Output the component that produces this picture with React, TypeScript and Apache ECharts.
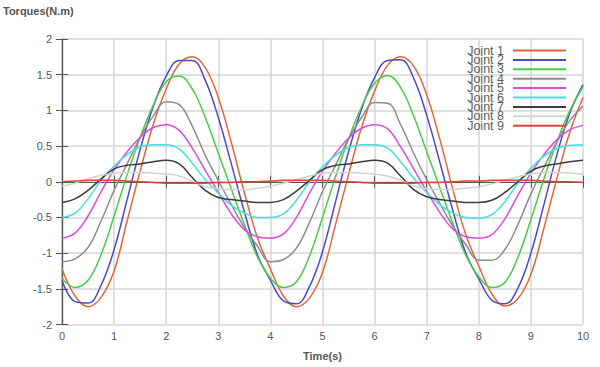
import React, { useEffect, useRef } from "react";
import * as echarts from "echarts";

const TIMES = [
  0, 0.25, 0.5, 0.75, 1, 1.25, 1.5, 1.75, 2, 2.25, 2.5, 2.75, 3, 3.25, 3.5, 3.75,
  4, 4.25, 4.5, 4.75, 5, 5.25, 5.5, 5.75, 6, 6.25, 6.5, 6.75, 7, 7.25, 7.5, 7.75,
  8, 8.25, 8.5, 8.75, 9, 9.25, 9.5, 9.75, 10,
];

const JOINT_NAMES = ["Joint 1", "Joint 2", "Joint 3", "Joint 4", "Joint 5", "Joint 6", "Joint 7", "Joint 8", "Joint 9"];
const JOINT_COLORS = ["#e0663a", "#4a4ac6", "#46cc46", "#8c8c8c", "#dc4cdc", "#44e0e0", "#3c3c3c", "#d2d2d2", "#dc4434"];

const JOINT1 = [
  -1.22, -1.60, -1.75, -1.62, -1.25, -0.55, 0.15, 0.80, 1.30, 1.65, 1.75, 1.60, 1.18, 0.55, -0.15, -0.78,
  -1.22, -1.60, -1.75, -1.63, -1.27, -0.60, 0.10, 0.76, 1.27, 1.63, 1.75, 1.62, 1.22, 0.60, -0.10, -0.74,
  -1.18, -1.57, -1.74, -1.64, -1.30, -0.65, 0.05, 0.70, 1.18,
];
const JOINT2 = [
  -1.38, -1.68, -1.70, -1.45, -0.95, -0.25, 0.45, 1.05, 1.48, 1.70, 1.70, 1.42, 0.90, 0.25, -0.42, -1.02,
  -1.38, -1.67, -1.71, -1.47, -0.98, -0.28, 0.42, 1.02, 1.46, 1.70, 1.71, 1.45, 0.93, 0.28, -0.40, -1.00,
  -1.36, -1.66, -1.71, -1.49, -1.00, -0.32, 0.38, 0.97, 1.36,
];
const JOINT3 = [
  -1.35, -1.48, -1.38, -1.02, -0.48, 0.10, 0.62, 1.07, 1.40, 1.48, 1.30, 0.90, 0.40, -0.10, -0.60, -1.05,
  -1.35, -1.48, -1.40, -1.04, -0.50, 0.07, 0.60, 1.05, 1.38, 1.49, 1.32, 0.92, 0.42, -0.08, -0.58, -1.03,
  -1.33, -1.48, -1.41, -1.06, -0.53, 0.04, 0.56, 1.00, 1.33,
];
const JOINT4 = [
  -1.12, -1.08, -0.92, -0.55, -0.12, 0.25, 0.62, 0.92, 1.12, 1.08, 0.78, 0.37, 0.02, -0.32, -0.64, -0.90,
  -1.12, -1.09, -0.93, -0.57, -0.14, 0.23, 0.60, 0.90, 1.11, 1.10, 0.80, 0.40, 0.03, -0.30, -0.62, -0.88,
  -1.10, -1.10, -0.95, -0.60, -0.17, 0.20, 0.56, 0.86, 1.06,
];
const JOINT5 = [
  -0.79, -0.72, -0.48, -0.14, 0.17, 0.42, 0.62, 0.76, 0.80, 0.72, 0.47, 0.16, -0.15, -0.45, -0.67, -0.77,
  -0.79, -0.73, -0.50, -0.16, 0.15, 0.40, 0.61, 0.75, 0.80, 0.74, 0.49, 0.18, -0.13, -0.43, -0.66, -0.77,
  -0.79, -0.74, -0.52, -0.19, 0.12, 0.38, 0.59, 0.73, 0.79,
];
const JOINT6 = [
  -0.50, -0.44, -0.24, 0.02, 0.22, 0.38, 0.49, 0.52, 0.52, 0.46, 0.26, 0.03, -0.16, -0.33, -0.44, -0.50,
  -0.50, -0.45, -0.26, 0.00, 0.21, 0.37, 0.48, 0.52, 0.52, 0.47, 0.28, 0.05, -0.15, -0.32, -0.44, -0.50,
  -0.51, -0.46, -0.28, -0.02, 0.19, 0.36, 0.47, 0.51, 0.52,
];
const JOINT7 = [
  -0.29, -0.24, -0.12, 0.04, 0.18, 0.23, 0.25, 0.28, 0.30, 0.25, 0.06, -0.12, -0.22, -0.25, -0.27, -0.29,
  -0.29, -0.25, -0.13, 0.02, 0.17, 0.23, 0.25, 0.28, 0.30, 0.26, 0.08, -0.11, -0.21, -0.25, -0.27, -0.29,
  -0.29, -0.26, -0.15, 0.00, 0.15, 0.22, 0.25, 0.28, 0.30,
];
const JOINT8 = [
  -0.06, -0.02, 0.04, 0.09, 0.12, 0.13, 0.13, 0.12, 0.11, 0.08, 0.01, -0.07, -0.10, -0.11, -0.11, -0.09,
  -0.06, -0.02, 0.03, 0.08, 0.12, 0.13, 0.13, 0.12, 0.11, 0.08, 0.02, -0.06, -0.10, -0.11, -0.11, -0.09,
  -0.07, -0.03, 0.02, 0.07, 0.11, 0.13, 0.13, 0.12, 0.11,
];
const JOINT9 = [
  0.00, 0.01, 0.02, 0.02, 0.02, 0.01, 0.00, -0.01, -0.02, -0.02, -0.02, -0.02, -0.01, -0.01, 0.00, 0.00,
  0.01, 0.02, 0.02, 0.02, 0.02, 0.01, 0.00, -0.01, -0.02, -0.02, -0.02, -0.02, -0.01, -0.01, 0.00, 0.01,
  0.01, 0.02, 0.02, 0.02, 0.02, 0.01, 0.00, 0.00, -0.01,
];

const JOINT_VALUES = [JOINT1, JOINT2, JOINT3, JOINT4, JOINT5, JOINT6, JOINT7, JOINT8, JOINT9];

const FONT = "Liberation Sans, Arial, sans-serif";
const AXIS_COLOR = "#555555";
const GRID_COLOR = "#d6d6d6";

export default function App() {
  const ref = useRef<HTMLDivElement>(null);

  useEffect(() => {
    if (!ref.current) return;
    const chart = echarts.init(ref.current, undefined, { renderer: "svg" });

    const mirrorX = {
      type: "value",
      min: 0,
      max: 10,
      interval: 1,
      position: "top",
      axisLine: { show: true, lineStyle: { color: AXIS_COLOR, width: 1.2 } },
      axisTick: { show: true, inside: true, length: 6, lineStyle: { color: AXIS_COLOR } },
      axisLabel: { show: false },
      splitLine: { show: false },
    };
    const mirrorY = {
      type: "value",
      min: -2,
      max: 2,
      interval: 0.5,
      position: "right",
      axisLine: { show: true, lineStyle: { color: AXIS_COLOR, width: 1.2 } },
      axisTick: { show: true, inside: true, length: 6, lineStyle: { color: AXIS_COLOR } },
      axisLabel: { show: false },
      splitLine: { show: false },
    };

    chart.setOption({
      animation: false,
      backgroundColor: "#ffffff",
      textStyle: { fontFamily: FONT },
      grid: { left: 62, right: 17, top: 39, bottom: 42.5, containLabel: false },
      xAxis: [
        {
          type: "value",
          min: 0,
          max: 10,
          interval: 1,
          position: "bottom",
          name: "Time(s)",
          nameLocation: "middle",
          nameGap: 26,
          nameTextStyle: { fontFamily: FONT, fontSize: 11, fontWeight: "bold", color: "#555555" },
          axisLine: { show: true, lineStyle: { color: AXIS_COLOR, width: 1.2 } },
          axisTick: { show: true, inside: true, length: 6, lineStyle: { color: AXIS_COLOR } },
          axisLabel: { fontFamily: FONT, fontSize: 11, color: "#555555", margin: 6 },
          splitLine: { show: true, lineStyle: { color: GRID_COLOR, width: 1.5 } },
        },
        mirrorX,
      ],
      yAxis: [
        {
          type: "value",
          min: -2,
          max: 2,
          interval: 0.5,
          position: "left",
          axisLine: { show: true, lineStyle: { color: AXIS_COLOR, width: 1.2 } },
          axisTick: { show: true, inside: true, length: 6, lineStyle: { color: AXIS_COLOR } },
          axisLabel: { fontFamily: FONT, fontSize: 11, color: "#555555", margin: 10 },
          splitLine: { show: true, lineStyle: { color: GRID_COLOR, width: 1.5 } },
        },
        mirrorY,
      ],
      legend: {
        orient: "vertical",
        right: 34,
        top: 44,
        align: "right",
        icon: "rect",
        itemWidth: 53,
        itemHeight: 2,
        itemGap: -3.6,
        padding: 0,
        data: JOINT_NAMES,
        textStyle: {
          fontFamily: FONT,
          fontSize: 12.5,
          color: "#5e5e5e",
          padding: [0, 4, 0, 0],
        },
      },
      graphic: [
        {
          type: "text",
          left: 3,
          top: 5,
          style: {
            text: "Torques(N.m)",
            fontFamily: FONT,
            fontSize: 11,
            fontWeight: "bold",
            fill: "#555555",
          },
        },
      ],
      series: JOINT_NAMES.map((name, i) => ({
        name,
        type: "line",
        xAxisIndex: 0,
        yAxisIndex: 0,
        smooth: 0.4,
        showSymbol: false,
        symbol: "none",
        color: JOINT_COLORS[i],
        lineStyle: { color: JOINT_COLORS[i], width: 1.5 },
        data: TIMES.map((t, k) => [t, JOINT_VALUES[i][k]]),
      })),
    });

    return () => chart.dispose();
  }, []);

  return (
    <div
      ref={ref}
      style={{ position: "fixed", left: 0, top: 0, width: 600, height: 367 }}
    />
  );
}
